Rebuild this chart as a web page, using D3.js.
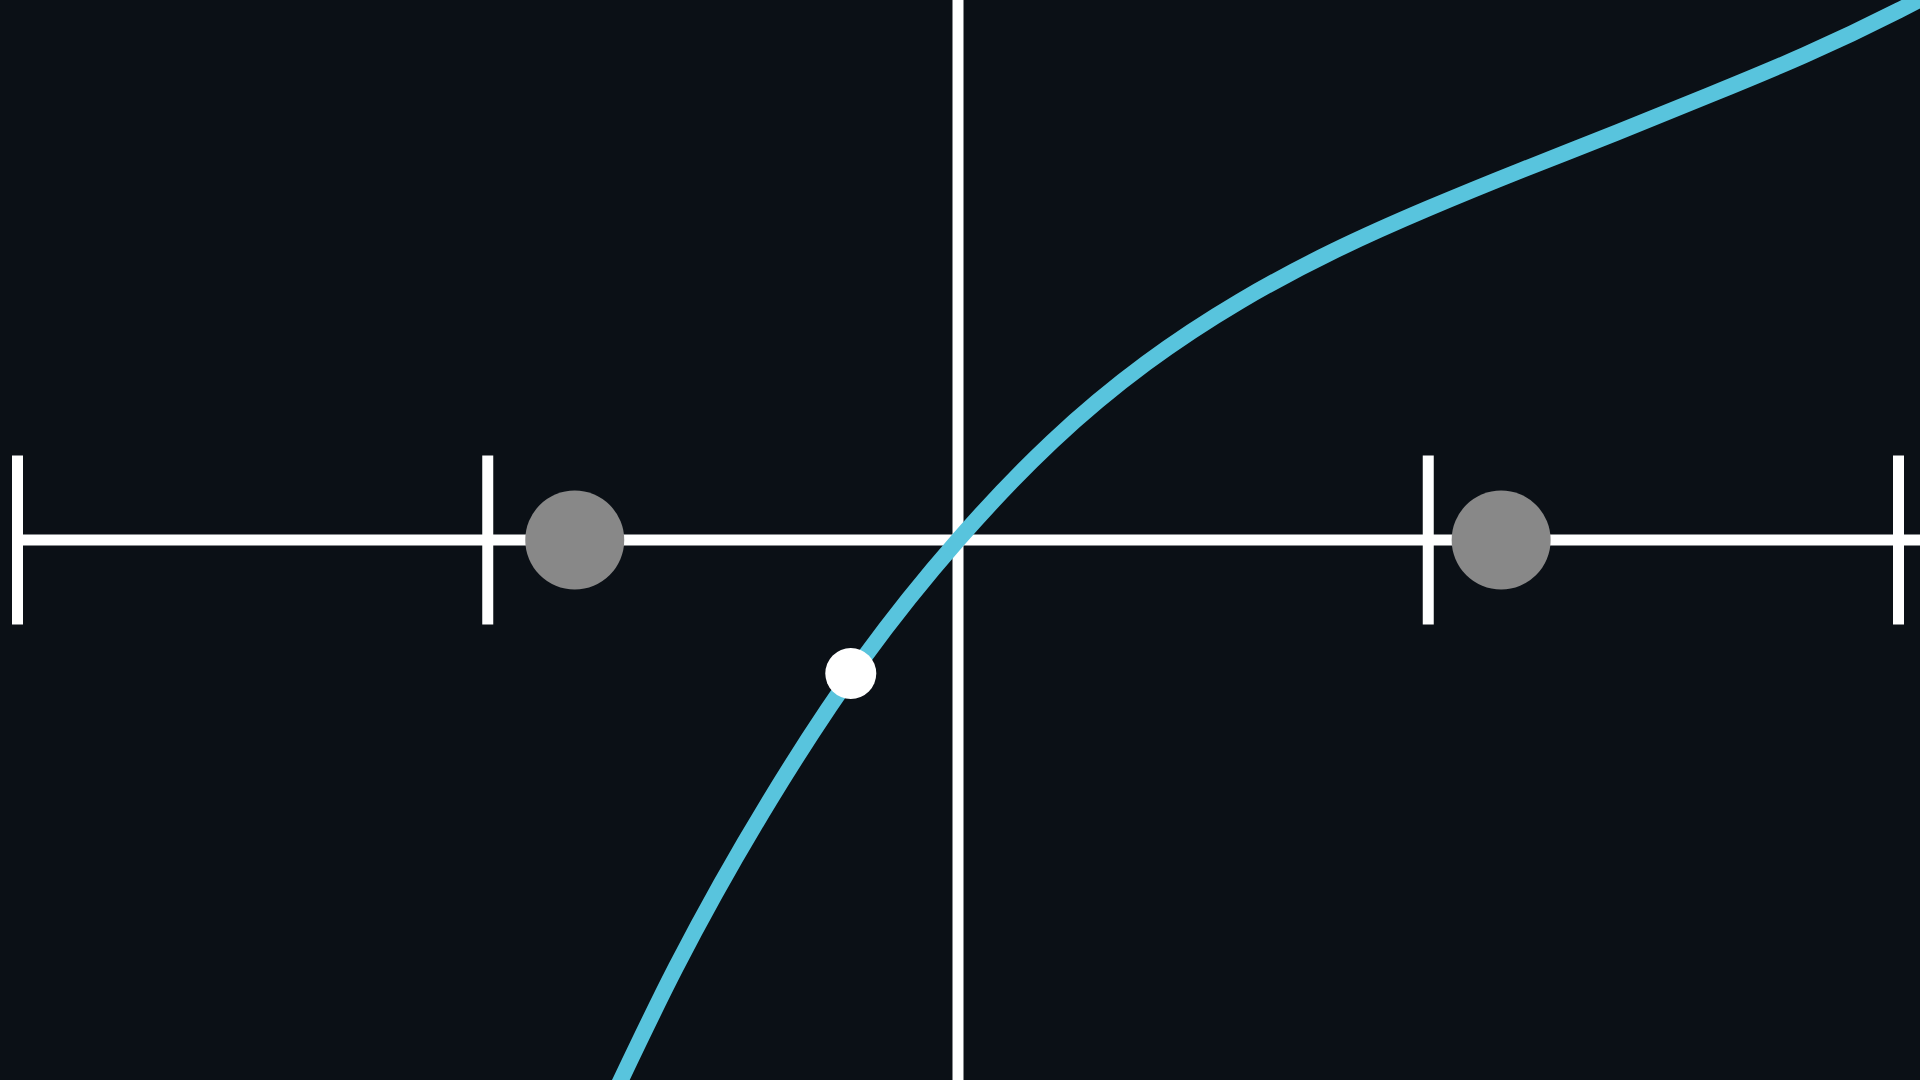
<!DOCTYPE html>
<html>
<head>
<meta charset="utf-8">
<script src="https://cdn.jsdelivr.net/npm/d3@7"></script>
<style>
  html, body { margin: 0; padding: 0; background: #0b1016; overflow: hidden; }
  svg { display: block; }
</style>
</head>
<body>
<svg id="chart" width="1920" height="1080"></svg>
<script>
// Axis tick positions (x-axis units)
const xTicks = [-2, -1, 1, 2];
// Curve samples (x, y in axis units)
const curveX = [-0.8, -0.6, -0.4, -0.2, 0, 0.2, 0.4, 0.6, 0.8, 1.0, 1.2, 1.4, 1.6, 1.8, 2.0, 2.2];
const curveY = [-1.325, -0.909, -0.553, -0.250, 0, 0.209, 0.376, 0.508, 0.615, 0.705, 0.787, 0.866, 0.947, 1.031, 1.126, 1.232];
// Grey markers on the x-axis
const greyX = [-0.815, 1.155];
// White point on the curve
const pointX = [-0.228];
const pointY = [-0.284];

const W = 1920, H = 1080;
const svg = d3.select("#chart");
svg.append("rect").attr("width", W).attr("height", H).attr("fill", "#0b1016");

const x = d3.scaleLinear().domain([-2, 2]).range([17.5, 1898.5]);
const unit = x(1) - x(0);
const y = d3.scaleLinear().domain([-H / 2 / unit, H / 2 / unit]).range([H, 0]);

const white = "#ffffff";
const sw = 11;

// horizontal axis line
svg.append("line")
  .attr("x1", x(-2)).attr("x2", W + 10)
  .attr("y1", y(0)).attr("y2", y(0))
  .attr("stroke", white).attr("stroke-width", sw);

// vertical axis line
svg.append("line")
  .attr("x1", x(0)).attr("x2", x(0))
  .attr("y1", -10).attr("y2", H + 10)
  .attr("stroke", white).attr("stroke-width", sw);

// ticks
svg.selectAll("line.tick").data(xTicks).join("line")
  .attr("class", "tick")
  .attr("x1", d => x(d)).attr("x2", d => x(d))
  .attr("y1", y(0) - 84.5).attr("y2", y(0) + 84.5)
  .attr("stroke", white).attr("stroke-width", sw);

// grey circles
svg.selectAll("circle.grey").data(greyX).join("circle")
  .attr("class", "grey")
  .attr("cx", d => x(d)).attr("cy", y(0)).attr("r", 49.5)
  .attr("fill", "#888888");

// curve
const pts = curveX.map((v, i) => [v, curveY[i]]);
const line = d3.line().x(d => x(d[0])).y(d => y(d[1])).curve(d3.curveNatural);
svg.append("path")
  .attr("d", line(pts))
  .attr("fill", "none")
  .attr("stroke", "#58c4dd")
  .attr("stroke-width", 16)
  .attr("stroke-linecap", "round");

// white point
svg.selectAll("circle.pt").data(pointX).join("circle")
  .attr("class", "pt")
  .attr("cx", d => x(d)).attr("cy", (d, i) => y(pointY[i])).attr("r", 25.5)
  .attr("fill", white);
</script>
</body>
</html>
